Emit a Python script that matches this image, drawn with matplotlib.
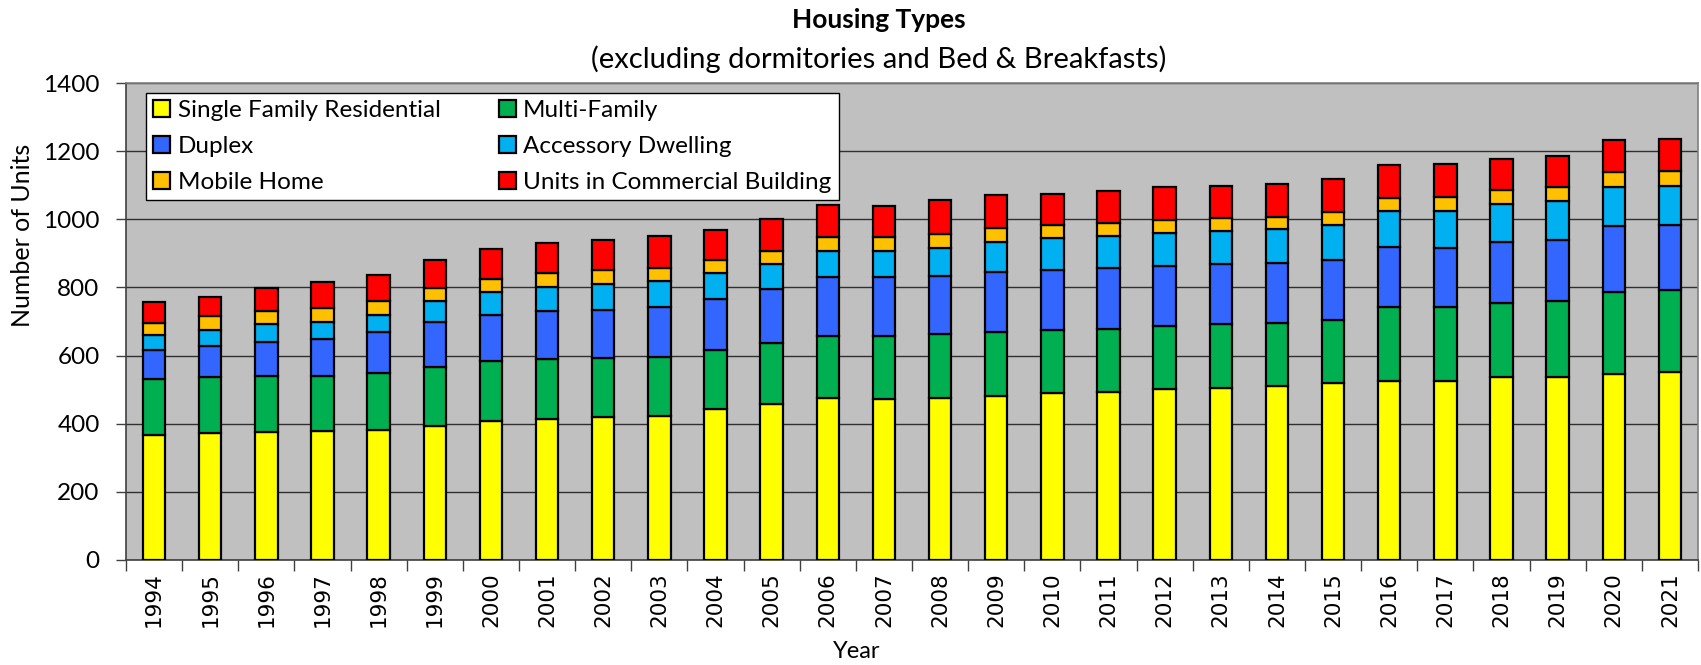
import matplotlib
matplotlib.use("Agg")
import matplotlib.pyplot as plt
import numpy as np
from matplotlib.patches import Patch

years = [str(y) for y in range(1994, 2022)]

single_family = [367, 372, 375, 378, 381, 393, 409, 413, 419, 424, 443, 457, 475, 472,
                 475, 482, 489, 494, 502, 506, 510, 519, 524, 524, 538, 538, 546, 551]
multi_family = [164, 164, 165, 161, 167, 173, 174, 176, 174, 173, 172, 179, 183, 186,
                187, 186, 185, 185, 186, 187, 187, 186, 218, 218, 216, 221, 240, 240]
duplex = [84, 91, 99, 110, 121, 134, 135, 141, 142, 147, 150, 159, 172, 172,
          173, 177, 178, 178, 176, 175, 175, 176, 178, 175, 178, 181, 195, 192]
accessory = [46, 47, 53, 50, 51, 59, 68, 71, 74, 75, 77, 75, 77, 77,
             82, 89, 93, 95, 97, 98, 99, 101, 103, 106, 114, 115, 115, 115]
mobile_home = [36, 43, 40, 41, 41, 39, 40, 41, 41, 39, 39, 38, 41, 41,
               40, 40, 38, 37, 36, 39, 37, 39, 39, 42, 41, 41, 43, 43]
commercial = [60, 54, 66, 75, 76, 83, 86, 88, 88, 92, 88, 93, 93, 92,
              100, 98, 92, 95, 97, 94, 95, 98, 98, 98, 90, 91, 93, 96]

series_names = ["Single Family Residential", "Multi-Family", "Duplex",
                "Accessory Dwelling", "Mobile Home", "Units in Commercial Building"]
series_values = [single_family, multi_family, duplex, accessory, mobile_home, commercial]
colors = ["#FFFF00", "#00B050", "#3366FF", "#00B0F0", "#FFC000", "#FF0000"]

plt.rcParams['font.family'] = ['Lato', 'DejaVu Sans']

W, H = 1701, 665
fig = plt.figure(figsize=(W / 100, H / 100), dpi=100)
ax = fig.add_axes([126 / W, 1 - 560 / H, 1572 / W, 477 / H])
ax.set_facecolor("#C0C0C0")

x = np.arange(len(years))
bottom = np.zeros(len(years))
handles = []
for name, vals, c in zip(series_names, series_values, colors):
    vals = np.array(vals, dtype=float)
    ax.bar(x, vals, width=0.4, bottom=bottom, color=c, edgecolor="black",
           linewidth=1.6, zorder=3)
    bottom += vals
    handles.append(Patch(facecolor=c, edgecolor="black", linewidth=1.6, label=name))

ax.set_xlim(-0.5, len(years) - 0.5)
ax.set_ylim(0, 1400)
ax.set_yticks(np.arange(0, 1401, 200))
ax.yaxis.grid(True, color="#303030", linewidth=1.0, zorder=1)
ax.set_axisbelow(True)

ax.set_xticks(x)
ax.set_xticklabels(years, rotation=90, fontfamily="DejaVu Sans", fontsize=15.5)
ax.set_xticks(np.arange(-0.5, len(years), 1), minor=True)
ax.tick_params(axis="x", which="major", length=0, pad=9)
ax.tick_params(axis="x", which="minor", length=8, width=1, color="#404040", direction="out")
ax.tick_params(axis="y", length=7, width=1, color="#404040", pad=12, labelsize=17.5)

for s in ["left", "bottom"]:
    ax.spines[s].set_color("#404040")
    ax.spines[s].set_linewidth(1.2)
for s in ["top", "right"]:
    ax.spines[s].set_color("#808080")
    ax.spines[s].set_linewidth(1.2)

order = [0, 2, 4, 1, 3, 5]
leg = ax.legend([handles[i] for i in order], [series_names[i] for i in order],
                ncol=2, loc="upper left", bbox_to_anchor=(0.0127, 0.979),
                borderaxespad=0, fontsize=17.5, frameon=True, fancybox=False,
                edgecolor="black", facecolor="white", framealpha=1,
                handlelength=0.7, handleheight=0.7, handletextpad=0.3,
                labelspacing=0.6, columnspacing=2.4, borderpad=0.3)
leg.get_frame().set_linewidth(1.0)
leg.set_zorder(5)

fig.text(879 / W, 1 - 20 / H, "Housing Types", ha="center", va="center",
         fontsize=19, fontweight="bold")
fig.text(879 / W, 1 - 59 / H, "(excluding dormitories and Bed & Breakfasts)",
         ha="center", va="center", fontsize=21)
fig.text(23 / W, 1 - 235 / H, "Number of Units", ha="center", va="center",
         rotation=90, fontsize=18)
fig.text(857 / W, 1 - 651 / H, "Year", ha="center", va="center", fontsize=17)

fig.savefig("out.png", dpi=100)
